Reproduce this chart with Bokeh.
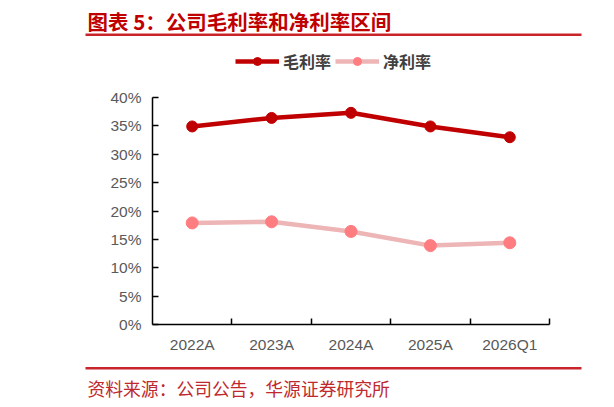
from bokeh.plotting import figure
from bokeh.models import (Range1d, FixedTicker, Legend, LegendItem, Label,
                          BoxAnnotation, ColumnDataSource, LinearAxis)
from bokeh.embed import file_html
from bokeh.resources import INLINE

# ---- data ----
categories = ["2022A", "2023A", "2024A", "2025A", "2026Q1"]
gross_margin = [34.9, 36.4, 37.3, 34.9, 33.0]
net_margin = [17.9, 18.1, 16.4, 13.9, 14.4]
y_ticks = [0, 5, 10, 15, 20, 25, 30, 35, 40]
series_names = ["毛利率", "净利率"]
title_text = "图表 5：公司毛利率和净利率区间"
source_text = "资料来源：公司公告，华源证券研究所"

# ---- layout constants (pixels on the canvas) ----
W, H = 612, 405
AX_LEFT, AX_RIGHT = 152, 549      # x pixel of first / last category boundary
AX_TOP, AX_BOTTOM = 97, 324       # y pixel of 40% / 0%
Y_MAX = 40

RED = "#C00000"
RULE = "#C8242B"
NET_LINE = "#EDB5B5"
NET_MARK = "#FF7C80"
CJK = "Noto Sans CJK SC"

n = len(categories)
ppx = (AX_RIGHT - AX_LEFT) / n
ppy = (AX_BOTTOM - AX_TOP) / Y_MAX
x_range = Range1d(-AX_LEFT / ppx, (W - AX_LEFT) / ppx)
y_range = Range1d(-(H - AX_BOTTOM) / ppy, Y_MAX + AX_TOP / ppy)

xs = [i + 0.5 for i in range(n)]
src = ColumnDataSource(dict(x=xs, g=gross_margin, n=net_margin))

p = figure(width=W, height=H, output_backend="svg", toolbar_location=None,
           x_range=x_range, y_range=y_range,
           x_axis_location=None, y_axis_location=None,
           min_border=0, min_border_left=0, min_border_right=0,
           min_border_top=0, min_border_bottom=0)
p.outline_line_color = None
p.xgrid.visible = False
p.ygrid.visible = False
p.background_fill_color = "white"
p.border_fill_color = "white"

ya = LinearAxis(fixed_location=0, bounds=(0, Y_MAX))
ya.ticker = FixedTicker(ticks=y_ticks, minor_ticks=[])
ya.major_label_overrides = {t: f"{t}%" for t in y_ticks}
ya.major_tick_in = 6
ya.major_tick_out = 0
ya.major_label_standoff = 11
ya.axis_line_color = "#000000"
ya.axis_line_width = 1.5
ya.major_tick_line_color = "#000000"
ya.major_tick_line_width = 1.5
ya.major_label_text_font = "Liberation Sans"
ya.major_label_text_font_size = "15.5px"
ya.major_label_text_color = "#595959"
p.add_layout(ya, "left")

xa = LinearAxis(fixed_location=0, bounds=(0, n))
xa.ticker = FixedTicker(ticks=xs, minor_ticks=list(range(1, n + 1)))
xa.major_label_overrides = {x: c for x, c in zip(xs, categories)}
xa.major_tick_line_color = None
xa.minor_tick_in = 6
xa.minor_tick_out = 0
xa.minor_tick_line_color = "#000000"
xa.minor_tick_line_width = 1.5
xa.axis_line_color = "#000000"
xa.axis_line_width = 1.5
xa.major_label_standoff = 5
xa.major_label_text_font = "Liberation Sans"
xa.major_label_text_font_size = "15.5px"
xa.major_label_text_color = "#595959"
p.add_layout(xa, "below")

gl = p.line("x", "g", source=src, line_color=RED, line_width=4.5)
gm = p.scatter("x", "g", source=src, size=11, fill_color=RED, line_color=RED)
nl = p.line("x", "n", source=src, line_color=NET_LINE, line_width=4.5)
nm = p.scatter("x", "n", source=src, size=12, fill_color=NET_MARK, line_color=NET_MARK)


def sy(page_y):
    return H - page_y


legend = Legend(items=[LegendItem(label=series_names[0], renderers=[gl, gm]),
                       LegendItem(label=series_names[1], renderers=[nl, nm])],
                orientation="horizontal", location=(235, sy(73.3)),
                glyph_width=44, glyph_height=20, label_height=20,
                label_standoff=4, spacing=4, padding=0, margin=0,
                border_line_color=None, background_fill_alpha=0,
                label_text_font=CJK, label_text_font_size="16px",
                label_text_font_style="bold", label_text_color="#404040")
p.add_layout(legend, "center")

p.add_layout(Label(x=87, y=sy(20.5), x_units="screen", y_units="screen",
                   text=title_text, text_font=CJK, text_font_size="20.5px",
                   text_font_style="bold", text_color=RED,
                   text_baseline="middle", text_align="left"))
for top_y, bot_y in [(33, 35.5), (366.5, 369)]:
    p.add_layout(BoxAnnotation(left=85, right=581, bottom=sy(bot_y), top=sy(top_y),
                               left_units="screen", right_units="screen",
                               bottom_units="screen", top_units="screen",
                               fill_color=RULE, fill_alpha=1, line_color=None))
p.add_layout(Label(x=87, y=sy(387), x_units="screen", y_units="screen",
                   text=source_text, text_font=CJK, text_font_size="17.8px",
                   text_color="#C0282E", text_baseline="middle", text_align="left"))

open("out.html", "w").write(file_html(p, INLINE))
